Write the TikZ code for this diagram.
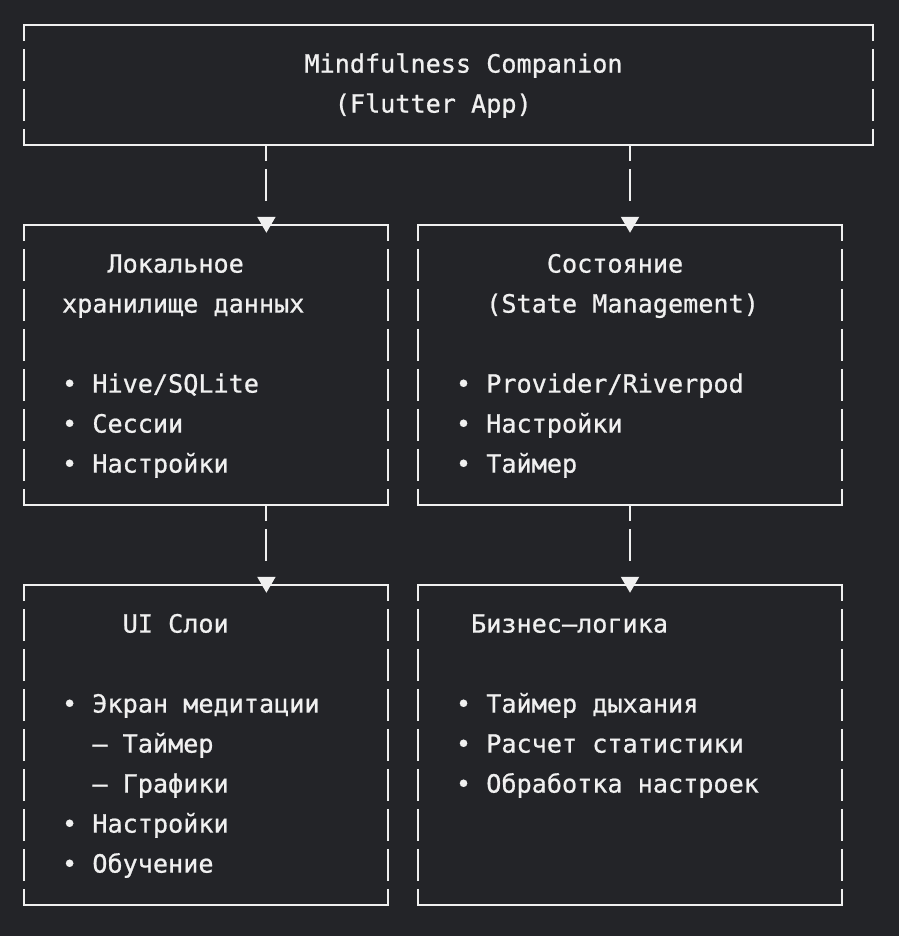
\documentclass[tikz,border=0pt]{standalone}
\usepackage{fontspec}
\setmonofont[FakeBold=0.8]{DejaVu Sans Mono}
\usetikzlibrary{arrows.meta,fit}
\definecolor{bg}{RGB}{35,36,40}
\definecolor{fg}{RGB}{240,240,240}

\begin{document}
\begin{tikzpicture}[x=15.15pt, y=-40pt,
	every node/.style={font=\ttfamily\fontsize{25.16pt}{40pt}\selectfont, text=fg},
	box/.style={inner sep=0pt},
	line/.style={inner sep=0pt, anchor=base west},
	hline/.style={draw=fg, line width=2pt, line cap=rect},
	vline/.style={draw=fg, line width=2pt, dash pattern=on 32pt off 8pt, dash phase=16pt},
	link/.style={draw=fg, line width=2pt, dash pattern=on 16pt off 8pt on 32pt off 40pt,
		-{Triangle[width=18pt,length=16pt]}}]
	\useasboundingbox[fill=bg] (-1.584,-0.625) rectangle (57.76,22.775);
	% boxes
	\node[box, fit={(0,0) (56,3)}] (app) {};
	\node[box, fit={(0,5) (24,12)}] (store) {};
	\node[box, fit={(26,5) (54,12)}] (state) {};
	\node[box, fit={(0,14) (24,22)}] (ui) {};
	\node[box, fit={(26,14) (54,22)}] (logic) {};
	\foreach \b in {app,store,state,ui,logic} {
		\draw[hline] (\b.north west) -- (\b.north east) (\b.south west) -- (\b.south east);
		\draw[vline] (\b.north west) -- (\b.south west) (\b.north east) -- (\b.south east);
	}
	% texts
	\node[line] (app-1) at (18.5,1.19) {Mindfulness Companion};
	\node[line] (app-2) at (20.5,2.19) {(Flutter App)};
	\node[line] (store-1) at (5.5,6.19) {Локальное};
	\node[line] (store-2) at (2.5,7.19) {хранилище данных};
	\foreach \t [count=\i from 9] in {• Hive/SQLite, • Сессии, • Настройки}
		\node[line] (store-\i) at (2.5,\i+0.19) {\t};
	\node[line] (state-1) at (34.5,6.19) {Состояние};
	\node[line] (state-2) at (30.5,7.19) {(State Management)};
	\foreach \t [count=\i from 9] in {• Provider/Riverpod, • Настройки, • Таймер}
		\node[line] (state-\i) at (28.5,\i+0.19) {\t};
	\node[line] (ui-1) at (6.5,15.19) {UI Слои};
	\foreach \t [count=\i from 17] in {• Экран медитации, \phantom{• }– Таймер, \phantom{• }– Графики, • Настройки, • Обучение}
		\node[line] (ui-\i) at (2.5,\i+0.19) {\t};
	\node[line] (logic-1) at (29.5,15.19) {Бизнес–логика};
	\foreach \t [count=\i from 17] in {• Таймер дыхания, • Расчет статистики, • Обработка настроек}
		\node[line] (logic-\i) at (28.5,\i+0.19) {\t};
	% connectors
	\coordinate (colL) at (16,0);
	\coordinate (colR) at (40,0);
	\draw[link] (app.south -| colL) -- ([yshift=-8pt]store.north -| colL);
	\draw[link] (app.south -| colR) -- ([yshift=-8pt]state.north -| colR);
	\draw[link] (store.south -| colL) -- ([yshift=-8pt]ui.north -| colL);
	\draw[link] (state.south -| colR) -- ([yshift=-8pt]logic.north -| colR);
\end{tikzpicture}
\end{document}
